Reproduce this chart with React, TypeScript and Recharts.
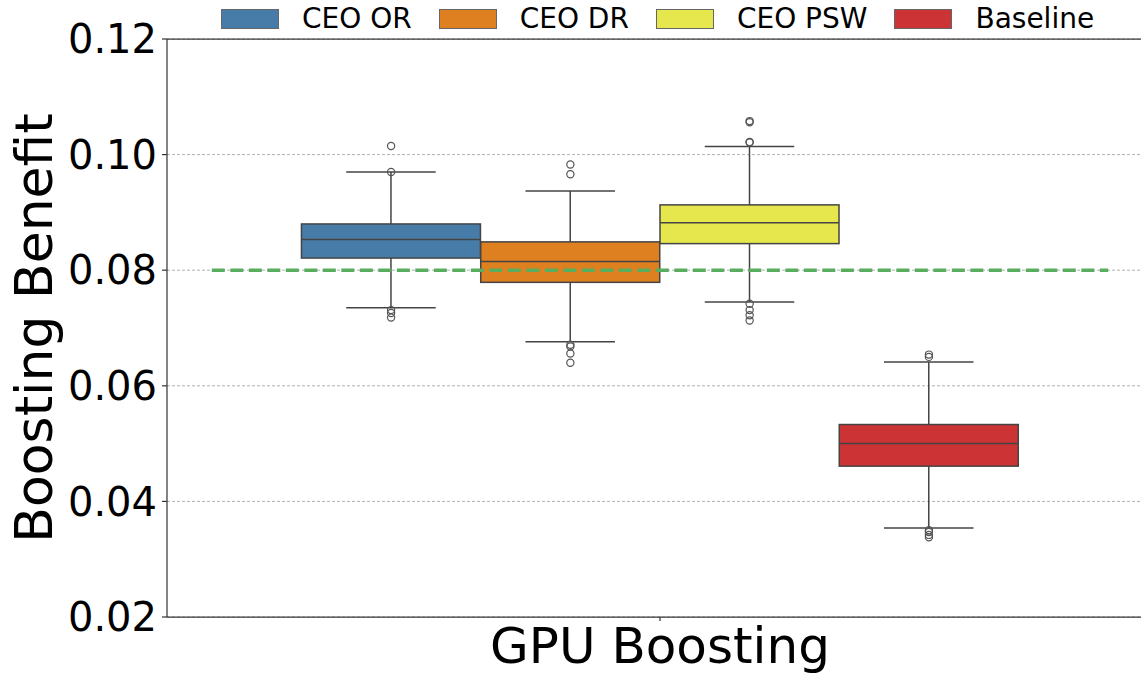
import React from 'react';
import {
  ComposedChart,
  Bar,
  Scatter,
  XAxis,
  YAxis,
  CartesianGrid,
  ReferenceLine,
} from 'recharts';

// ---- data ----
const categories = ['CEO OR', 'CEO DR', 'CEO PSW', 'Baseline'];
const colors = ['#477ca8', '#df8020', '#e6e64d', '#cb3334'];
const xCategory = 'GPU Boosting';
const whiskerLow = [0.0735, 0.0676, 0.0745, 0.0354];
const q1 = [0.0821, 0.0779, 0.0846, 0.0461];
const median = [0.0853, 0.0815, 0.0882, 0.05];
const q3 = [0.088, 0.0849, 0.0913, 0.0533];
const whiskerHigh = [0.097, 0.0937, 0.1014, 0.0641];
const outliers = [
  [0.1015, 0.097, 0.0731, 0.0726, 0.0718],
  [0.0983, 0.0966, 0.0671, 0.0668, 0.0656, 0.064],
  [0.1058, 0.1056, 0.1022, 0.1021, 0.0742, 0.0731, 0.0722, 0.0713],
  [0.0654, 0.065, 0.035, 0.0347, 0.0342, 0.0338],
];
const yTicks = [0.02, 0.04, 0.06, 0.08, 0.1, 0.12];
const referenceValue = 0.08;

// ---- layout helpers ----
const FONT = '"DejaVu Sans", sans-serif';
const DODGE = 0.8 / categories.length;
const dodgeX = (i: number) => (i - (categories.length - 1) / 2) * DODGE;

const boxData = categories.map((name, i) => ({
  name,
  x: dodgeX(i),
  lo: whiskerLow[i],
  q1: q1[i],
  med: median[i],
  q3: q3[i],
  hi: whiskerHigh[i],
  color: colors[i],
}));

const outlierData = outliers.flatMap((vals, i) =>
  vals.map((v) => ({ x: dodgeX(i), y: v }))
);

const EDGE = '#444444';

const BoxShape = (props: any) => {
  const { x, y, width, height, payload } = props;
  if (x == null || y == null) return null;
  const top = Math.min(y, y + height);
  const bottom = Math.max(y, y + height);
  const ppu = (bottom - top) / (payload.hi - payload.lo);
  const yOf = (v: number) => bottom - (v - payload.lo) * ppu;
  const cx = x + width / 2;
  const capHalf = width / 4;
  const yq1 = yOf(payload.q1);
  const yq3 = yOf(payload.q3);
  const ymed = yOf(payload.med);
  return (
    <g>
      <line x1={cx} x2={cx} y1={top} y2={yq3} stroke={EDGE} strokeWidth={1.5} />
      <line x1={cx} x2={cx} y1={yq1} y2={bottom} stroke={EDGE} strokeWidth={1.5} />
      <line x1={cx - capHalf} x2={cx + capHalf} y1={top} y2={top} stroke={EDGE} strokeWidth={1.5} />
      <line x1={cx - capHalf} x2={cx + capHalf} y1={bottom} y2={bottom} stroke={EDGE} strokeWidth={1.5} />
      <rect x={x} y={yq3} width={width} height={yq1 - yq3} fill={payload.color} stroke={EDGE} strokeWidth={1.5} />
      <line x1={x} x2={x + width} y1={ymed} y2={ymed} stroke={EDGE} strokeWidth={1.5} />
    </g>
  );
};

const OutlierShape = (props: any) => {
  const { cx, cy } = props;
  if (cx == null || cy == null) return null;
  return <circle cx={cx} cy={cy} r={3.6} fill="none" stroke="#555555" strokeWidth={1.2} />;
};

const YLabel = (props: any) => {
  const vb = props.viewBox || {};
  const cx = 34;
  const cy = (vb.y ?? 39) + (vb.height ?? 578) / 2;
  return (
    <text
      x={cx}
      y={cy}
      transform={`rotate(-90, ${cx}, ${cy})`}
      textAnchor="middle"
      dominantBaseline="central"
      fontSize={52}
      fontFamily={FONT}
      fill="#000"
    >
      Boosting Benefit
    </text>
  );
};

const Legend = () => (
  <div
    style={{
      position: 'absolute',
      left: 221,
      top: 9,
      display: 'flex',
      alignItems: 'center',
      fontFamily: FONT,
      fontSize: 28,
      lineHeight: '20px',
      color: '#000',
      whiteSpace: 'nowrap',
    }}
  >
    {categories.map((c, i) => (
      <div key={c} style={{ display: 'flex', alignItems: 'center', marginRight: i < categories.length - 1 ? 27 : 0 }}>
        <div
          style={{
            width: 58,
            height: 20,
            boxSizing: 'border-box',
            background: colors[i],
            border: '1px solid #666',
            marginRight: 23,
          }}
        />
        <span>{c}</span>
      </div>
    ))}
  </div>
);

export default function App() {
  return (
    <div
      style={{
        position: 'fixed',
        left: 0,
        top: 0,
        width: 1141,
        height: 675,
        overflow: 'hidden',
        background: '#fff',
      }}
    >
      <ComposedChart
        width={1160}
        height={675}
        data={boxData}
        margin={{ top: 39, right: 7, bottom: 0, left: 0 }}
        style={{ fontFamily: FONT }}
      >
        <CartesianGrid vertical={false} stroke="#b0b0b0" strokeDasharray="3 2" strokeWidth={1} />
        <XAxis
          type="number"
          dataKey="x"
          domain={[-0.55, 0.55]}
          allowDataOverflow
          ticks={[0]}
          tickFormatter={() => xCategory}
          height={58}
          tickSize={4}
          tickMargin={6}
          tick={{ fontSize: 50, fill: '#000', fontFamily: FONT }}
          axisLine={{ stroke: '#3a3a3a', strokeWidth: 1.25 }}
          tickLine={{ stroke: '#3a3a3a', strokeWidth: 1.25 }}
        />
        <YAxis
          type="number"
          domain={[0.02, 0.12]}
          allowDataOverflow
          ticks={yTicks}
          tickFormatter={(v: number) => v.toFixed(2)}
          width={167}
          tickSize={5}
          tickMargin={5}
          tick={{ fontSize: 40, fill: '#000', fontFamily: FONT }}
          axisLine={{ stroke: '#3a3a3a', strokeWidth: 1.25 }}
          tickLine={{ stroke: '#3a3a3a', strokeWidth: 1.25 }}
          label={<YLabel />}
        />
        <ReferenceLine y={0.12} stroke="#3a3a3a" strokeWidth={1.25} />
        <Bar
          dataKey={(d: any) => [d.lo, d.hi]}
          barSize={179}
          shape={<BoxShape />}
          isAnimationActive={false}
        />
        <Scatter
          data={outlierData}
          dataKey="y"
          shape={<OutlierShape />}
          isAnimationActive={false}
        />
        <ReferenceLine
          segment={[
            { x: -0.5, y: referenceValue },
            { x: 0.5, y: referenceValue },
          ]}
          stroke="#58ad5e"
          strokeWidth={3.5}
          strokeDasharray="13 5.5"
        />
      </ComposedChart>
      <Legend />
    </div>
  );
}
